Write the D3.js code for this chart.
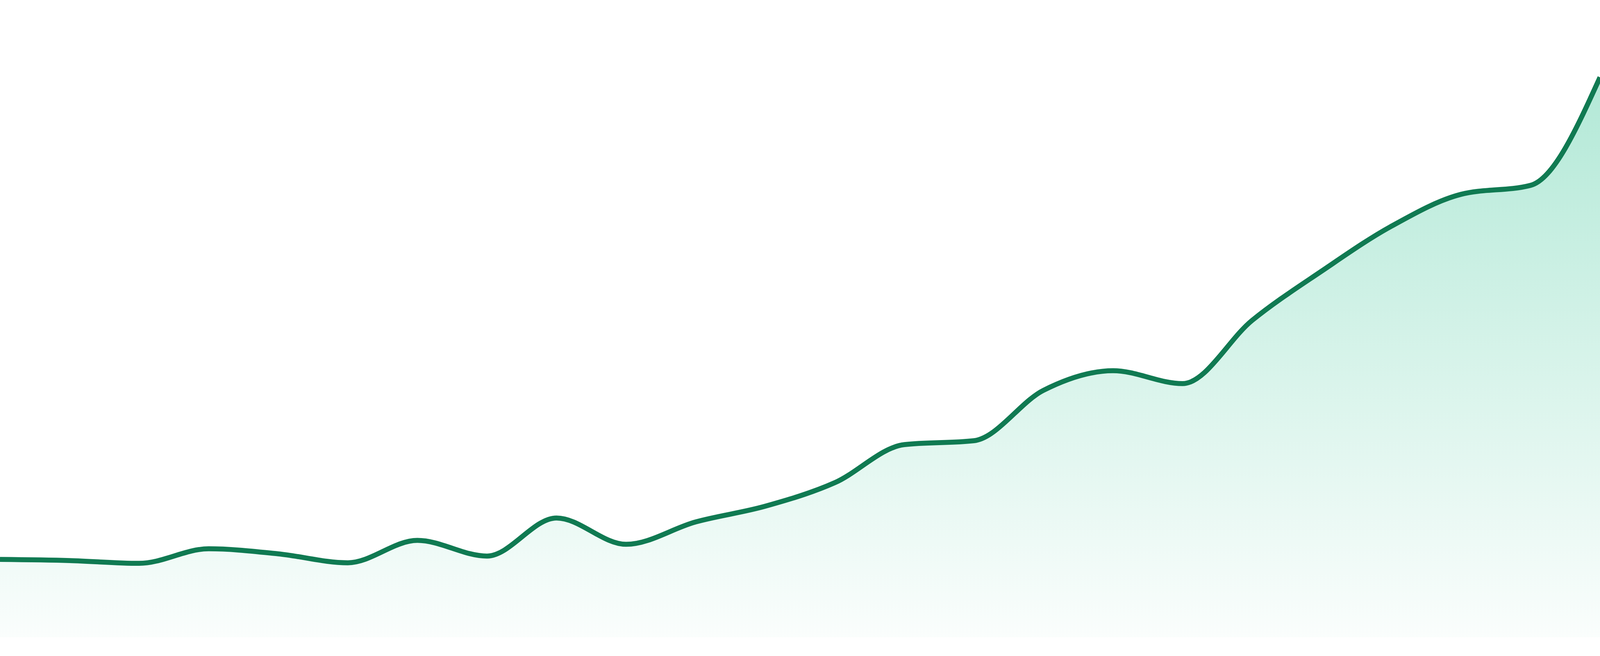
<!DOCTYPE html>
<html>
<head>
<meta charset="utf-8">
<script src="https://cdn.jsdelivr.net/npm/d3@7"></script>
<style>
  html, body { margin: 0; padding: 0; background: #ffffff; overflow: hidden; width: 100%; height: 100%; }
  svg { display: block; }
</style>
</head>
<body>
<svg id="chart"></svg>
<script>
// ---- data ----
const categories = ["P1","P2","P3","P4","P5","P6","P7","P8","P9","P10","P11","P12",
                    "P13","P14","P15","P16","P17","P18","P19","P20","P21","P22","P23","P24"];
const values = [13.9, 13.7, 13.2, 15.8, 14.9, 13.3, 17.3, 14.5, 21.3, 16.6, 20.6, 23.4,
                27.6, 34.4, 35.1, 44.1, 47.6, 45.3, 56.6, 65.4, 73.4, 79.1, 80.7, 100];
const yDomain = [0, 100];

// ---- layout (reference frame 4800 x 1680, fitted to the actual viewport) ----
const REF_W = 4800, REF_H = 1680;
const W = window.innerWidth || REF_W;
const H = window.innerHeight || REF_H;
const sx = W / REF_W, sy = H / REF_H;
const margin = { top: 198 * sy, right: 0, bottom: 48 * sy, left: 0 };

const svg = d3.select("#chart").attr("width", W).attr("height", H);

const x = d3.scalePoint().domain(categories).range([margin.left, W - margin.right]);
const y = d3.scaleLinear().domain(yDomain).range([H - margin.bottom, margin.top]);

const data = categories.map((c, i) => ({ c, v: values[i] }));

const defs = svg.append("defs");
defs.append("clipPath").attr("id", "plotClip")
  .append("rect").attr("x", 0).attr("y", 0).attr("width", W).attr("height", H);

const grad = defs.append("linearGradient")
  .attr("id", "fillGrad")
  .attr("gradientUnits", "userSpaceOnUse")
  .attr("x1", 0).attr("x2", 0)
  .attr("y1", y(yDomain[1])).attr("y2", y(yDomain[0]));
grad.append("stop").attr("offset", "0%").attr("stop-color", "#10b981").attr("stop-opacity", 0.32);
grad.append("stop").attr("offset", "100%").attr("stop-color", "#10b981").attr("stop-opacity", 0.02);

const area = d3.area()
  .x(d => x(d.c))
  .y0(y(0))
  .y1(d => y(d.v))
  .curve(d3.curveMonotoneX);

const line = d3.line()
  .x(d => x(d.c))
  .y(d => y(d.v))
  .curve(d3.curveMonotoneX);

const g = svg.append("g").attr("clip-path", "url(#plotClip)");

g.append("path").datum(data)
  .attr("d", area)
  .attr("fill", "url(#fillGrad)");

g.append("path").datum(data)
  .attr("d", line)
  .attr("fill", "none")
  .attr("stroke", "#107a52")
  .attr("stroke-width", 15 * Math.min(sx, sy))
  .attr("stroke-linejoin", "round");
</script>
</body>
</html>
